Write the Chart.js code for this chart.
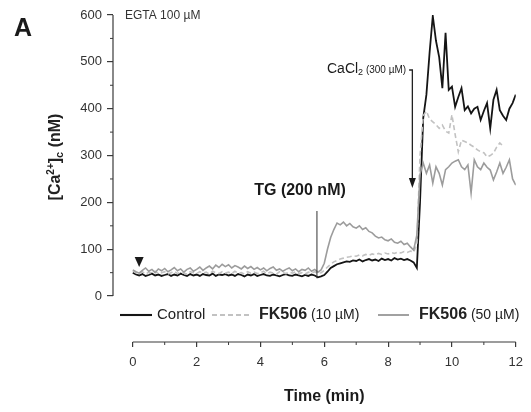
<!DOCTYPE html>
<html><head><meta charset="utf-8">
<script src="https://cdn.jsdelivr.net/npm/chart.js@4/dist/chart.umd.min.js"></script>
<style>html,body{margin:0;padding:0;background:#fff}#wrap{width:531px;height:412px;position:relative}</style>
</head><body><div id="wrap"><canvas id="c" width="531" height="412"></canvas></div>
<script>
// ---- data (time in min, [Ca2+]c in nM) ----
const times = [0,0.1,0.2,0.3,0.4,0.5,0.6,0.7,0.8,0.9,
1,1.1,1.2,1.3,1.4,1.5,1.6,1.7,1.8,1.9,
2,2.1,2.2,2.3,2.4,2.5,2.6,2.7,2.8,2.9,
3,3.1,3.2,3.3,3.4,3.5,3.6,3.7,3.8,3.9,
4,4.1,4.2,4.3,4.4,4.5,4.6,4.7,4.8,4.9,
5,5.1,5.2,5.3,5.4,5.5,5.6,5.7,5.8,5.9,
6,6.1,6.2,6.3,6.4,6.5,6.6,6.7,6.8,6.9,
7,7.1,7.2,7.3,7.4,7.5,7.6,7.7,7.8,7.9,
8,8.1,8.2,8.3,8.4,8.5,8.6,8.7,8.8,8.9,
9,9.1,9.2,9.3,9.4,9.5,9.6,9.7,9.8,9.9,
10,10.1,10.2,10.3,10.4,10.5,10.6,10.7,10.8,10.9,
11,11.1,11.2,11.3,11.4,11.5,11.6,11.7,11.8,11.9,12];
const control = [50,46,44,47,43,45,48,44,46,43,
45,47,43,46,44,48,45,43,47,44,
46,43,47,45,44,48,43,46,45,47,
44,46,43,47,45,42,46,44,47,43,
45,47,44,43,46,44,42,45,47,44,
43,46,44,42,45,43,46,44,40,42,
45,52,60,64,68,70,72,74,73,76,
75,78,74,77,79,76,78,75,80,77,
79,76,81,78,80,77,79,76,72,60,
200,380,430,520,598,545,510,444,562,440,
447,404,425,444,397,405,390,400,404,376,
395,412,358,419,440,397,385,376,400,412,430];
const fk506_10 = [54,50,48,52,47,51,49,53,48,50,
52,47,50,53,48,51,49,47,52,50,
48,52,49,51,47,53,50,48,52,49,
51,48,53,49,50,47,52,49,51,48,
50,53,48,51,49,47,52,50,48,51,
49,52,48,50,47,51,49,52,48,50,
55,62,68,73,76,79,81,83,84,86,
85,88,86,89,87,90,88,91,89,92,
90,93,91,94,92,95,93,96,94,110,
300,385,395,378,372,366,358,365,352,348,
387,345,308,333,330,327,322,318,312,308,
306,297,300,305,318,327,320,null,null,null,null];
const fk506_50 = [56,52,49,55,60,53,57,50,58,54,
59,52,56,61,54,58,51,57,60,53,
57,62,55,60,64,58,66,61,68,63,
67,60,65,62,58,64,59,63,57,61,
56,60,54,59,62,55,58,53,57,60,
54,58,52,57,55,60,53,57,51,56,
70,100,125,142,156,152,158,150,155,148,
145,150,142,146,138,135,128,124,126,120,
118,122,115,113,117,110,113,105,98,130,
260,284,262,280,241,276,262,237,270,276,
284,288,291,276,270,280,220,291,276,270,
284,275,269,248,265,284,262,275,291,250,237];
const xTicks = [0,2,4,6,8,10,12];
const xMinorTicks = [1,3,5,7,9,11];
const yTicks = [0,100,200,300,400,500,600];
const yMinorTicks = [50,150,250,350,450,550];
const FONT = "'Liberation Sans', Arial, Helvetica, sans-serif";
Chart.defaults.font.family = FONT;

function pts(arr){ return times.map((t,i)=>({x:t, y:arr[i]})); }

function drawText(ctx, parts, x, y){
  let cx = x;
  for (const p of parts){
    ctx.font = p[1];
    ctx.fillText(p[0], cx, y + (p[2]||0));
    cx += ctx.measureText(p[0]).width;
  }
  return cx;
}
function widthOf(ctx, parts){
  let w=0; for(const p of parts){ctx.font=p[1]; w+=ctx.measureText(p[0]).width;} return w;
}

const deco = {
  id:'deco',
  afterDraw(chart){
    const ctx = chart.ctx, xs = chart.scales.x, ys = chart.scales.y, ca = chart.chartArea;
    ctx.save();
    ctx.strokeStyle = '#3a3a3a'; ctx.lineWidth = 1.2; ctx.setLineDash([]);
    ctx.beginPath(); ctx.moveTo(ca.left, ys.getPixelForValue(0)); ctx.lineTo(ca.left, ys.getPixelForValue(600)); ctx.stroke();
    ctx.beginPath(); ctx.moveTo(xs.getPixelForValue(0), ca.bottom); ctx.lineTo(xs.getPixelForValue(12), ca.bottom); ctx.stroke();
    ctx.lineWidth = 1;
    for (const v of yMinorTicks){ const py = ys.getPixelForValue(v); ctx.beginPath(); ctx.moveTo(ca.left-3, py); ctx.lineTo(ca.left, py); ctx.stroke(); }
    for (const v of xMinorTicks){ const px = xs.getPixelForValue(v); ctx.beginPath(); ctx.moveTo(px, ca.bottom); ctx.lineTo(px, ca.bottom+3); ctx.stroke(); }

    ctx.fillStyle = '#1a1a1a'; ctx.textBaseline = 'middle'; ctx.textAlign = 'left';
    ctx.font = "bold 25px " + FONT; ctx.fillText('A', 14, 29);
    ctx.fillStyle = '#333';
    ctx.font = "12px " + FONT; ctx.fillText('EGTA 100 \u00b5M', 125, 16);
    ctx.fillStyle = '#1a1a1a';
    ctx.font = "bold 16px " + FONT; ctx.textAlign = 'center'; ctx.fillText('TG (200 nM)', 300, 191);
    ctx.textAlign = 'left';
    const tgX = xs.getPixelForValue(5.77);
    ctx.strokeStyle = '#333'; ctx.lineWidth = 1;
    ctx.beginPath(); ctx.moveTo(tgX, 211); ctx.lineTo(tgX, ys.getPixelForValue(38)); ctx.stroke();
    const end = drawText(ctx, [['CaCl', "14px "+FONT, 0], ['2', "9px "+FONT, 4], [' (300 \u00b5M)', "10px "+FONT, 1]], 327, 69);
    const arX = xs.getPixelForValue(8.76);
    ctx.strokeStyle = '#222'; ctx.lineWidth = 1.3;
    ctx.beginPath(); ctx.moveTo(end+3, 70); ctx.lineTo(arX, 70); ctx.lineTo(arX, 180); ctx.stroke();
    ctx.beginPath(); ctx.moveTo(arX-3.5, 178); ctx.lineTo(arX+3.5, 178); ctx.lineTo(arX, 188); ctx.closePath(); ctx.fill();
    const sx = xs.getPixelForValue(0.2);
    ctx.beginPath(); ctx.moveTo(sx-4.5, 257); ctx.lineTo(sx+4.5, 257); ctx.lineTo(sx, 267); ctx.closePath(); ctx.fill();

    ctx.save();
    ctx.translate(56, 157); ctx.rotate(-Math.PI/2);
    const yParts = [['[Ca', "bold 16px "+FONT, 0], ['2+', "bold 10px "+FONT, -5], [']', "bold 16px "+FONT, 0], ['c', "bold 11px "+FONT, 4], [' (nM)', "bold 16px "+FONT, 0]];
    const w = widthOf(ctx, yParts);
    ctx.fillStyle = '#222';
    drawText(ctx, yParts, -w/2, 0);
    ctx.restore();

    ctx.fillStyle = '#1a1a1a'; ctx.font = "bold 16px " + FONT; ctx.textAlign = 'center';
    ctx.fillText('Time (min)', (xs.getPixelForValue(0)+xs.getPixelForValue(12))/2, 397);
    ctx.textAlign = 'left';

    const ly = 315;
    const ds = chart.data.datasets;
    const seg = (x1,x2,d)=>{ ctx.strokeStyle=d.borderColor; ctx.lineWidth=d.borderWidth+0.3; ctx.setLineDash(d.borderDash||[]); ctx.beginPath(); ctx.moveTo(x1,ly); ctx.lineTo(x2,ly); ctx.stroke(); ctx.setLineDash([]); };
    seg(120,152,ds[2]);
    ctx.fillStyle='#222'; ctx.font="15px "+FONT; ctx.fillText(ds[2].label, 157, ly);
    seg(212,250,ds[1]);
    drawText(ctx, [['FK506', "bold 16px "+FONT, 0], [' (10 \u00b5M)', "14px "+FONT, 0]], 259, ly);
    seg(378,409,ds[0]);
    drawText(ctx, [['FK506', "bold 16px "+FONT, 0], [' (50 \u00b5M)', "14px "+FONT, 0]], 419, ly);
    ctx.restore();
  }
};

new Chart(document.getElementById('c'), {
  type: 'line',
  data: { datasets: [
    { label: 'FK506 (50 \u00b5M)', data: pts(fk506_50), borderColor: '#9c9c9c', borderWidth: 1.6, pointRadius: 0, tension: 0 },
    { label: 'FK506 (10 \u00b5M)', data: pts(fk506_10), borderColor: '#c2c2c2', borderWidth: 1.6, borderDash: [5,3], pointRadius: 0, tension: 0 },
    { label: 'Control', data: pts(control), borderColor: '#151515', borderWidth: 1.8, pointRadius: 0, tension: 0 }
  ]},
  options: {
    responsive: false, animation: false,
    layout: { padding: { top: 15, right: 11, left: 0, bottom: 0 } },
    plugins: { legend: { display: false }, tooltip: { enabled: false } },
    scales: {
      x: {
        type: 'linear', min: -0.62, max: 12,
        afterBuildTicks: s => { s.ticks = xTicks.map(v => ({ value: v })); },
        afterFit: s => { s.height = 70; },
        grid: { drawOnChartArea: false, drawTicks: true, tickLength: 5, color: '#3a3a3a', lineWidth: 1.2 },
        border: { display: false },
        ticks: { font: { size: 13 }, color: '#333', padding: 8, maxRotation: 0, autoSkip: false }
      },
      y: {
        min: -98, max: 600,
        afterBuildTicks: s => { s.ticks = yTicks.map(v => ({ value: v })); },
        afterFit: s => { s.width = 113; },
        grid: { drawOnChartArea: false, drawTicks: true, tickLength: 6, color: '#3a3a3a', lineWidth: 1.2 },
        border: { display: false },
        ticks: { font: { size: 13 }, color: '#333', padding: 5, autoSkip: false }
      }
    }
  },
  plugins: [deco]
});
</script>
</body></html>
